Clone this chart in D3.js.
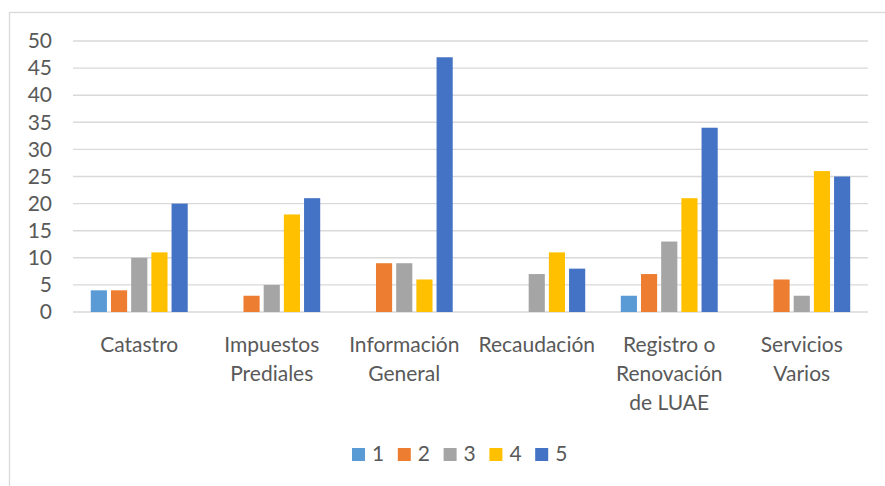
<!DOCTYPE html>
<html>
<head>
<meta charset="utf-8">
<script src="https://cdn.jsdelivr.net/npm/d3@7"></script>
<style>
  html, body { margin: 0; padding: 0; background: #fff; }
  svg { display: block; }
  text { font-family: Lato, "Open Sans", sans-serif; fill: #595959; }
</style>
</head>
<body>
<svg id="chart" width="885" height="486"></svg>
<script>
// Categories (multi-line labels split on "\n")
const categories = [
  "Catastro",
  "Impuestos\nPrediales",
  "Información\nGeneral",
  "Recaudación",
  "Registro o\nRenovación\nde LUAE",
  "Servicios\nVarios"
];
const seriesNames = ["1", "2", "3", "4", "5"];
const series1 = [4, 0, 0, 0, 3, 0];
const series2 = [4, 3, 9, 0, 7, 6];
const series3 = [10, 5, 9, 7, 13, 3];
const series4 = [11, 18, 6, 11, 21, 26];
const series5 = [20, 21, 47, 8, 34, 25];
const yTicks = [0, 5, 10, 15, 20, 25, 30, 35, 40, 45, 50];
const colors = ["#5B9BD5", "#ED7D31", "#A5A5A5", "#FFC000", "#4472C4"];

const allSeries = [series1, series2, series3, series4, series5];

const svg = d3.select("#chart");

// Outer chart frame
svg.append("rect")
  .attr("x", 9.5).attr("y", 12.5)
  .attr("width", 1000).attr("height", 600)
  .attr("fill", "#fff").attr("stroke", "#d9d9d9").attr("stroke-width", 1.3);

const plot = { left: 73, right: 868, top: 41, bottom: 312 };

const x0 = d3.scaleBand()
  .domain(categories)
  .range([plot.left, plot.right])
  .paddingInner(0.238)
  .paddingOuter(0.119);

const x1 = d3.scaleBand()
  .domain(seriesNames)
  .range([0, x0.bandwidth()])
  .paddingInner(0.2)
  .paddingOuter(0.1);

const y = d3.scaleLinear().domain([0, 50]).range([plot.bottom, plot.top]);

// Gridlines
svg.append("g")
  .selectAll("line")
  .data(yTicks)
  .join("line")
  .attr("x1", plot.left).attr("x2", plot.right)
  .attr("y1", d => y(d)).attr("y2", d => y(d))
  .attr("stroke", "#d9d9d9").attr("stroke-width", 1.4);

// Y axis labels
const yAxis = d3.axisLeft(y).tickValues(yTicks).tickSize(0).tickPadding(0);
const yg = svg.append("g")
  .attr("transform", `translate(${plot.left - 21},0)`)
  .call(yAxis);
yg.select(".domain").remove();
yg.selectAll("text")
  .attr("font-size", 21)
  .attr("font-family", "Lato, sans-serif")
  .attr("fill", "#595959");

// Bars
const groups = svg.append("g")
  .selectAll("g")
  .data(categories)
  .join("g")
  .attr("transform", d => `translate(${x0(d)},0)`);

groups.selectAll("rect")
  .data((c, i) => seriesNames.map((s, j) => ({ s, v: allSeries[j][i], color: colors[j] })))
  .join("rect")
  .filter(d => d.v > 0)
  .attr("x", d => x1(d.s))
  .attr("width", x1.bandwidth())
  .attr("y", d => y(d.v))
  .attr("height", d => y(0) - y(d.v))
  .attr("fill", d => d.color);

// Category labels
const catLabels = svg.append("g")
  .selectAll("text")
  .data(categories)
  .join("text")
  .attr("x", d => x0(d) + x0.bandwidth() / 2)
  .attr("y", 352)
  .attr("text-anchor", "middle")
  .attr("font-size", 21);
catLabels.selectAll("tspan")
  .data(d => d.split("\n"))
  .join("tspan")
  .attr("x", function () { return d3.select(this.parentNode).attr("x"); })
  .attr("dy", (d, i) => (i === 0 ? 0 : 29))
  .text(d => d);

// Legend
const legend = svg.append("g").attr("transform", "translate(352,448)");
const li = legend.selectAll("g")
  .data(seriesNames)
  .join("g")
  .attr("transform", (d, i) => `translate(${i * 45.8},0)`);
li.append("rect")
  .attr("width", 13).attr("height", 13)
  .attr("fill", (d, i) => colors[i]);
li.append("text")
  .attr("x", 20).attr("y", 13)
  .attr("font-size", 21)
  .text(d => d);
</script>
</body>
</html>
